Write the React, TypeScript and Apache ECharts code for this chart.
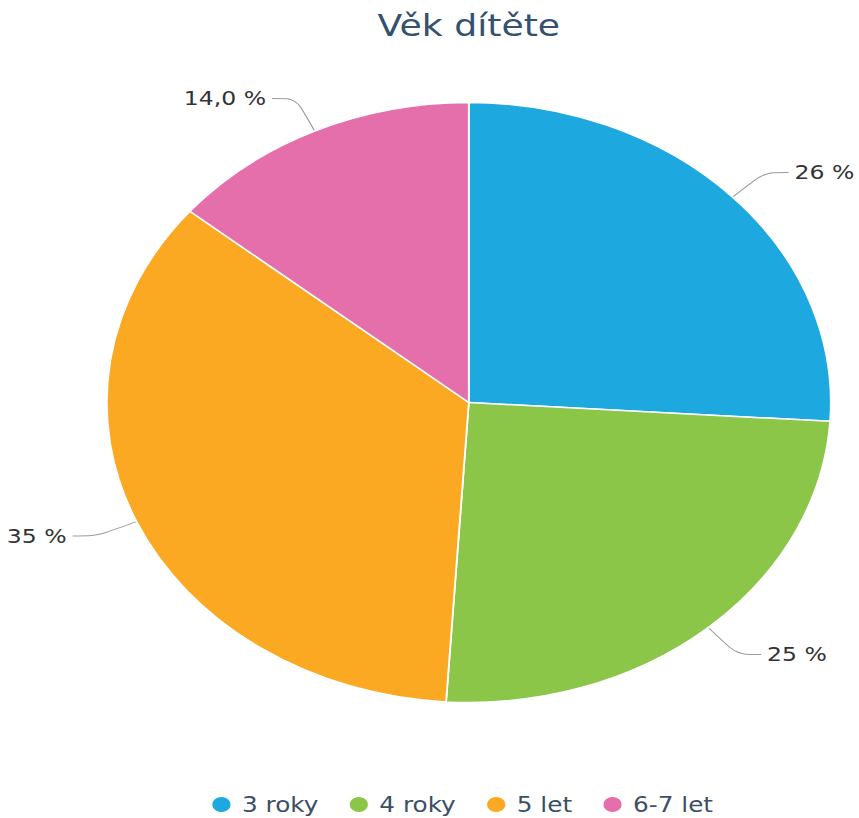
import React, { useEffect, useRef } from "react";
import * as echarts from "echarts";

const titleText = "Věk dítěte";
const categories = ["3 roky", "4 roky", "5 let", "6-7 let"];
const values = [26, 25, 35, 14];
const labelTexts = ["26 %", "25 %", "35 %", "14,0 %"];
const colors = ["#1ea8e0", "#8bc649", "#fba823", "#e46fab"];

const STRETCH = 1.2067;

export default function App() {
  const ref = useRef<HTMLDivElement>(null);
  useEffect(() => {
    if (!ref.current) return;
    const chart = echarts.init(ref.current, undefined, { renderer: "svg" });
    const font = "'DejaVu Sans', Verdana, sans-serif";
    chart.setOption({
      animation: false,
      backgroundColor: "#ffffff",
      title: {
        text: titleText,
        left: "center",
        top: 6,
        textStyle: { fontFamily: font, fontSize: 30, fontWeight: "normal", color: "#34516e" },
      },
      legend: {
        data: categories,
        left: 174,
        top: 794,
        padding: 0,
        icon: "circle",
        itemWidth: 18,
        itemHeight: 17,
        itemGap: 24,
        textStyle: { fontFamily: font, fontSize: 20.5, color: "#3b4f66", padding: [0, 0, 0, 3] },
      },
      series: [
        {
          type: "pie",
          center: ["50%", 402.5],
          radius: 300,
          startAngle: 90,
          clockwise: true,
          avoidLabelOverlap: false,
          itemStyle: { borderColor: "#ffffff", borderWidth: 1.5 },
          label: {
            show: true,
            formatter: (p: any) => labelTexts[p.dataIndex],
            fontFamily: font,
            fontSize: 19.5,
            color: "#333333",
          },
          labelLine: {
            show: true,
            length: 36,
            length2: 20,
            smooth: 0.3,
            lineStyle: { color: "#9a9a9a", width: 1 },
          },
          emphasis: { disabled: true },
          data: categories.map((name, i) => ({
            name,
            value: values[i],
            itemStyle: { color: colors[i] },
          })),
        },
      ],
    });
    return () => chart.dispose();
  }, []);
  return (
    <div
      style={{
        position: "fixed",
        left: 0,
        top: 0,
        width: 859,
        height: 818,
        overflow: "hidden",
        background: "#ffffff",
      }}
    >
      <div
        ref={ref}
        style={{
          width: 777,
          height: 818,
          transform: `scaleX(${STRETCH})`,
          transformOrigin: "0 0",
        }}
      />
    </div>
  );
}
